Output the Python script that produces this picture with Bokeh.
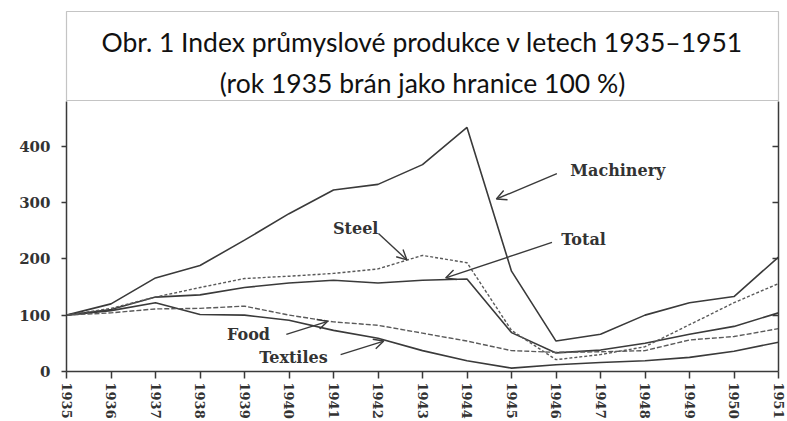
import math
from bokeh.plotting import figure
from bokeh.models import (Range1d, LinearAxis, FixedTicker, Arrow, OpenHead, Label)
from bokeh.layouts import column
from bokeh.core.properties import value
from bokeh.embed import file_html
from bokeh.resources import INLINE

# ---- data ----
years = list(range(1935, 1952))
machinery = [100, 120, 166, 188, 233, 280, 322, 332, 367, 433, 178, 54, 66, 100, 122, 133, 203]
steel = [100, 112, 132, 149, 165, 169, 174, 182, 206, 193, 73, 21, 30, 44, 83, 122, 156]
total = [100, 110, 132, 136, 149, 157, 162, 157, 162, 164, 69, 33, 38, 50, 66, 80, 104]
food = [100, 104, 111, 112, 116, 100, 88, 82, 68, 54, 37, 34, 35, 37, 56, 62, 76]
textiles = [100, 108, 122, 101, 100, 91, 73, 59, 37, 19, 6, 12, 16, 19, 25, 36, 52]

y_ticks = [0, 100, 200, 300, 400]

label_names = ["Machinery", "Total", "Steel", "Food", "Textiles"]
label_x = [1947.39, 1946.62, 1941.50, 1939.09, 1940.10]
label_y = [356, 235, 253, 65, 24]
arrow_x0 = [1946.02, 1945.91, 1942.01, 1939.94, 1941.16]
arrow_y0 = [351, 229, 245, 66, 30]
arrow_x1 = [1944.66, 1943.52, 1942.65, 1940.87, 1942.13]
arrow_y1 = [306, 166, 198, 89, 54]

title1 = "Obr. 1 Index průmyslové produkce v letech 1935–1951"
title2 = "(rok 1935 brán jako hranice 100 %)"

INK = "#3a3a3a"
DASH_INK = "#5a5a5a"

# ---- title box ----
t = figure(width=787, height=101, x_range=Range1d(0, 1), y_range=Range1d(0, 89),
           toolbar_location=None, output_backend="svg",
           x_axis_location=None, y_axis_location=None,
           min_border_left=66, min_border_right=9, min_border_top=11, min_border_bottom=1)
t.xgrid.visible = False
t.ygrid.visible = False
t.outline_line_color = "#c4c4c4"
t.outline_line_width = 1.2
t.text(x=[0.5, 0.5], y=[59, 18], text=[title1, title2], text_align="center",
       text_baseline="middle", text_font=value("Lato"), text_font_size="26.5px",
       text_color="#111111")

# ---- main chart ----
p = figure(width=787, height=320, x_range=Range1d(1935, 1951), y_range=Range1d(0, 479),
           toolbar_location=None, output_backend="svg",
           min_border_left=63, min_border_right=5, min_border_top=0, min_border_bottom=0)
p.xgrid.visible = False
p.ygrid.visible = False
p.outline_line_color = None
p.background_fill_color = "white"

for ax in (p.xaxis[0], p.yaxis[0]):
    ax.axis_line_color = INK
    ax.axis_line_width = 1.5
    ax.major_tick_line_color = INK
    ax.major_tick_line_width = 1.5
    ax.minor_tick_line_color = None
    ax.major_tick_in = 0
    ax.major_label_text_font = "DejaVu Serif"
    ax.major_label_text_font_style = "bold"
    ax.major_label_text_color = "#333333"

p.xaxis.ticker = FixedTicker(ticks=years)
p.xaxis.major_tick_out = 7
p.xaxis.major_label_orientation = "vertical"
p.xaxis.major_label_standoff = 4
p.xaxis.major_label_text_font_size = "13px"

p.yaxis.ticker = FixedTicker(ticks=y_ticks)
p.yaxis.major_tick_out = 5
p.yaxis.major_label_standoff = 11
p.yaxis.major_label_text_font_size = "15px"

ra = LinearAxis(ticker=FixedTicker(ticks=y_ticks[1:]), major_tick_in=6, major_tick_out=0,
                axis_line_color=INK, axis_line_width=1.5, major_tick_line_color=INK,
                major_tick_line_width=1.5, minor_tick_line_color=None,
                major_label_standoff=0, major_label_overrides={v: "" for v in y_ticks})
p.add_layout(ra, "right")

p.line(years, machinery, line_color=INK, line_width=1.6)
p.line(years, total, line_color=INK, line_width=1.6)
p.line(years, textiles, line_color=INK, line_width=1.6)
p.line(years, steel, line_color=DASH_INK, line_width=1.4, line_dash="3 2")
p.line(years, food, line_color=DASH_INK, line_width=1.4, line_dash="5 2")

# annotations
for i, name in enumerate(label_names):
    p.add_layout(Label(x=label_x[i], y=label_y[i], text=name, text_align="center",
                       text_baseline="middle", text_font="DejaVu Serif",
                       text_font_style="bold", text_font_size="16px", text_color="#333333"))
    p.add_layout(Arrow(end=OpenHead(size=10, line_color=INK, line_width=1.4),
                       x_start=arrow_x0[i], y_start=arrow_y0[i],
                       x_end=arrow_x1[i], y_end=arrow_y1[i],
                       line_color=INK, line_width=1.4))

layout = column(t, p, spacing=0)
open("out.html", "w").write(file_html(layout, INLINE))
